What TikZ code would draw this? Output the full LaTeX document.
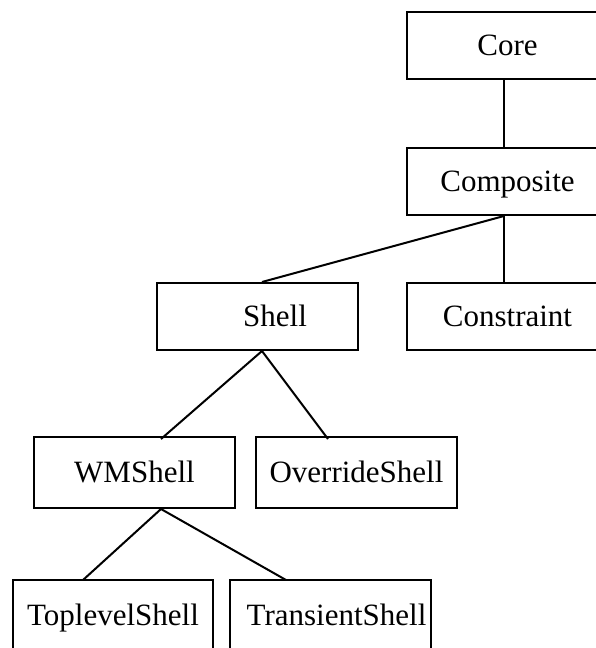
\documentclass[tikz,border=0pt]{standalone}
\usepackage{fontspec}
\setmainfont{Liberation Serif}
\begin{document}
\begin{tikzpicture}[x=1pt,y=-1pt,
  box/.style={draw=black, line width=2pt, minimum width=201pt, minimum height=67pt,
    inner sep=0pt, text height=20.5pt, text depth=0pt,
    font=\fontsize{31}{37}\selectfont},
  tall/.style={minimum height=71pt},
  link/.style={line width=2pt}]
\useasboundingbox (0,0) rectangle (595,648);
\node[box] (core) at (507.5,45.5) {Core};
\node[box] (composite) at (507.5,181.5) {Composite};
\node[box] (constraint) at (507.5,316) {Constraint};
\node[box] (shell) at (257.5,316.5) {\hspace*{35pt}Shell};
\node[box,tall] (wmshell) at (134.5,472.5) {WMShell};
\node[box,tall] (override) at (356.5,472.5) {OverrideShell};
\node[box,tall,minimum width=200pt] (toplevel) at (113,615.5) {ToplevelShell};
\node[box,tall] (transient) at (330.5,615.5) {\hspace*{12pt}TransientShell};
\draw[link] ([xshift=-3.5pt]core.south) -- ([xshift=-3.5pt]composite.north);
\draw[link] ([xshift=-3.5pt]composite.south) -- ([xshift=-3.5pt]constraint.north);
\draw[link] ([xshift=-3.5pt]composite.south) -- ([xshift=4.5pt]shell.north);
\draw[link] ([xshift=4.5pt]shell.south) -- ([xshift=26.5pt,yshift=-3pt]wmshell.north);
\draw[link] ([xshift=4.5pt]shell.south) -- ([xshift=-28.5pt,yshift=-3pt]override.north);
\draw[link] ([xshift=26.5pt]wmshell.south) -- ([xshift=-30pt,yshift=-1pt]toplevel.north);
\draw[link] ([xshift=26.5pt]wmshell.south) -- ([xshift=-44.5pt,yshift=-1pt]transient.north);
\end{tikzpicture}
\end{document}
